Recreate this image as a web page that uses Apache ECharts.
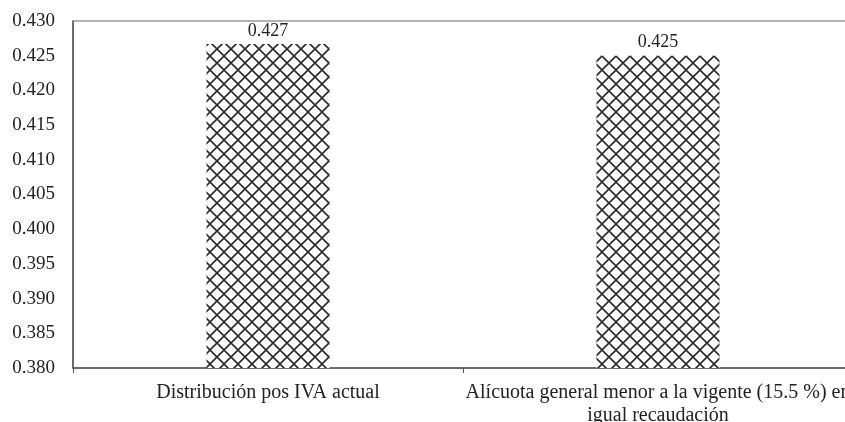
<!DOCTYPE html>
<html>
<head>
<meta charset="utf-8">
<script src="https://cdn.jsdelivr.net/npm/echarts@6/dist/echarts.min.js"></script>
<style>html,body{margin:0;padding:0;background:#fff;}#c{width:845px;height:422px;}</style>
</head>
<body>
<div id="c"></div>
<script>
const categories = ["Distribución pos IVA actual", "Alícuota general menor a la vigente (15.5 %) en\nigual recaudación"];
const values = [0.4267, 0.4250];
const yTicks = {min: 0.380, max: 0.430, step: 0.005};

function makePattern() {
  const s = 14;
  const c = document.createElement('canvas');
  c.width = s; c.height = s;
  const g = c.getContext('2d');
  g.fillStyle = '#ffffff';
  g.fillRect(0, 0, s, s);
  g.strokeStyle = '#2a2a2a';
  g.lineWidth = 1.6;
  g.beginPath();
  g.moveTo(0, 0); g.lineTo(s, s);
  g.moveTo(s, 0); g.lineTo(0, s);
  g.stroke();
  return c;
}

const chart = echarts.init(document.getElementById('c'), null, {renderer: 'canvas'});
const font = 'Liberation Serif';
chart.setOption({
  animation: false,
  grid: {left: 73, top: 21, width: 780, bottom: 54, show: true, borderColor: '#666', borderWidth: 1,
    outerBoundsMode: 'none', containLabel: false},
  xAxis: {
    type: 'category',
    data: categories,
    axisLine: {lineStyle: {color: '#555', width: 1.5}},
    axisTick: {show: true, length: 5, lineStyle: {color: '#555'}},
    axisLabel: {color: '#222', fontFamily: font, fontSize: 20, margin: 13, lineHeight: 23, interval: 0}
  },
  yAxis: {
    type: 'value',
    min: yTicks.min, max: yTicks.max, interval: yTicks.step,
    axisLine: {show: true, lineStyle: {color: '#555', width: 1.5}},
    axisTick: {show: false},
    splitLine: {show: false},
    axisLabel: {color: '#222', fontFamily: font, fontSize: 19, margin: 18,
      formatter: v => v.toFixed(3)}
  },
  series: [{
    type: 'bar',
    data: values,
    barWidth: 123,
    itemStyle: {color: {image: makePattern(), repeat: 'repeat'}},
    label: {show: true, position: 'top', distance: 4, color: '#222', fontFamily: font, fontSize: 18,
      formatter: p => p.value.toFixed(3)}
  }]
});
</script>
</body>
</html>
